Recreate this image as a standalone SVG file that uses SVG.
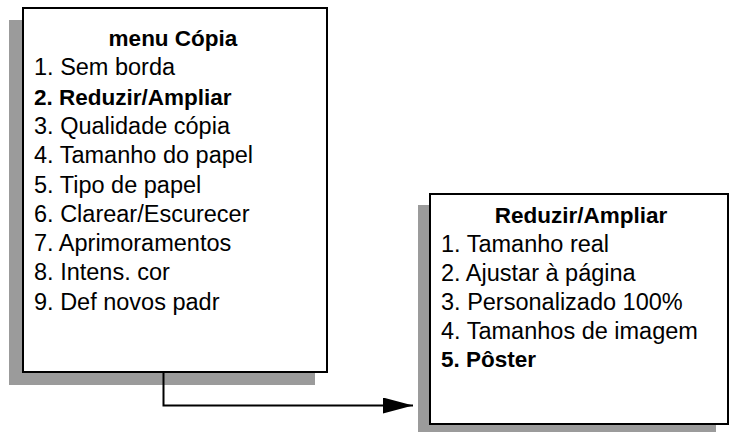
<svg xmlns="http://www.w3.org/2000/svg" width="730" height="432" viewBox="0 0 730 432">
  <defs>
    <style>
      .shadow { fill: #9b9b9b; stroke: none; }
      .box { fill: #ffffff; stroke: #000000; stroke-width: 2; }
      .t { font-family: "Liberation Sans", Arial, sans-serif; font-size: 23.5px; fill: #000000; }
      .b { font-weight: bold; font-size: 22.5px; }
      .title { text-anchor: middle; }
      .conn { fill: none; stroke: #000000; stroke-width: 2; }
    </style>
    <marker id="arrow" markerUnits="userSpaceOnUse" markerWidth="32" markerHeight="18" refX="30" refY="8" orient="auto">
      <path d="M0,0 L30,8 L0,16 Z" fill="#000000"/>
    </marker>
  </defs>

  <g id="node-menu-copia">
    <rect class="shadow" x="9" y="20" width="306" height="365"/>
    <rect class="box" x="23" y="8" width="304" height="364"/>
    <text class="t b title" x="173" y="46">menu Cópia</text>
    <text class="t" x="34" y="75.3">1. Sem borda</text>
    <text class="t b" x="34" y="104.6">2. Reduzir/Ampliar</text>
    <text class="t" x="34" y="133.9">3. Qualidade cópia</text>
    <text class="t" x="34" y="163.2">4. Tamanho do papel</text>
    <text class="t" x="34" y="192.5">5. Tipo de papel</text>
    <text class="t" x="34" y="221.8">6. Clarear/Escurecer</text>
    <text class="t" x="34" y="251.1">7. Aprimoramentos</text>
    <text class="t" x="34" y="280.4">8. Intens. cor</text>
    <text class="t" x="34" y="309.7">9. Def novos padr</text>
  </g>

  <g id="node-reduzir-ampliar">
    <rect class="shadow" x="418" y="205" width="298" height="232"/>
    <rect class="box" x="430" y="194" width="298" height="230"/>
    <text class="t b title" x="581" y="223">Reduzir/Ampliar</text>
    <text class="t" x="441" y="252">1. Tamanho real</text>
    <text class="t" x="441" y="281">2. Ajustar à página</text>
    <text class="t" x="441" y="310">3. Personalizado 100%</text>
    <text class="t" x="441" y="338.5">4. Tamanhos de imagem</text>
    <text class="t b" x="441" y="367">5. Pôster</text>
  </g>

  <g id="connectors">
    <path class="conn" d="M163.5,372 V405.5 H413" marker-end="url(#arrow)"/>
  </g>
</svg>
